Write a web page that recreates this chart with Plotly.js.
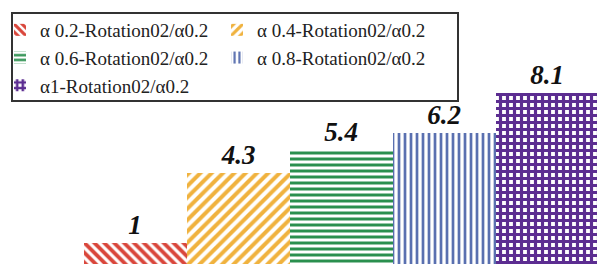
<!DOCTYPE html>
<html>
<head>
<meta charset="utf-8">
<script src="https://cdn.plot.ly/plotly-3.0.1.min.js"></script>
<style>html,body{margin:0;padding:0;background:#fff;}#chart{width:597px;height:264px;}</style>
</head>
<body>
<div id="chart"></div>
<script>
// Data
const seriesNames = [
  "\u03b1 0.2-Rotation02/\u03b10.2",
  "\u03b1 0.4-Rotation02/\u03b10.2",
  "\u03b1 0.6-Rotation02/\u03b10.2",
  "\u03b1 0.8-Rotation02/\u03b10.2",
  "\u03b11-Rotation02/\u03b10.2"
];
const categories = [0, 1, 2, 3, 4];
const values = [1, 4.3, 5.4, 6.2, 8.1];
const valueLabels = ["1", "4.3", "5.4", "6.2", "8.1"];

// Styles
const serif = "Liberation Serif";
const colors = ["#d9463b", "#f0b23e", "#2a8f4e", "#5a70b0", "#5c2d91"];
const shapes = ["\\", "/", "-", "|", "+"];
const sizes = [7, 8, 6, 6, 7];
const solidities = [0.55, 0.5, 0.5, 0.45, 0.7];

const traces = seriesNames.map((name, i) => ({
  type: "bar",
  name: name,
  x: [categories[i]],
  y: [values[i]],
  text: [valueLabels[i]],
  textposition: "outside",
  cliponaxis: false,
  textfont: {family: serif, size: 27, weight: "bold", style: "italic", color: "#111"},
  marker: {
    color: colors[i],
    line: {width: 0},
    pattern: {shape: shapes[i], fgcolor: colors[i], bgcolor: "#ffffff", size: sizes[i], solidity: solidities[i], fillmode: "replace"}
  },
  width: 1,
  hoverinfo: "skip"
}));

const layout = {
  width: 597, height: 264,
  margin: {l: 0, r: 0, t: 0, b: 0},
  paper_bgcolor: "#ffffff",
  plot_bgcolor: "#ffffff",
  barmode: "overlay",
  bargap: 0,
  showlegend: true,
  font: {family: serif},
  xaxis: {range: [-1.311, 4.485], visible: false, fixedrange: true},
  yaxis: {range: [0, 12.5], visible: false, fixedrange: true},
  shapes: [{
    type: "rect", xref: "paper", yref: "paper",
    x0: 12/597, x1: 458/597, y0: 1 - 101/264, y1: 1 - 13/264,
    line: {color: "#333333", width: 2}, fillcolor: "#ffffff", layer: "above"
  }],
  legend: {
    orientation: "h",
    x: 0, xanchor: "left",
    y: 1 - 11/264, yanchor: "top",
    bgcolor: "rgba(0,0,0,0)",
    borderwidth: 0,
    font: {family: serif, size: 19, color: "#222"},
    entrywidthmode: "fraction",
    entrywidth: 0.3635,
    traceorder: "normal"
  }
};

Plotly.newPlot("chart", traces, layout, {displayModeBar: false, staticPlot: true});
</script>
</body>
</html>
